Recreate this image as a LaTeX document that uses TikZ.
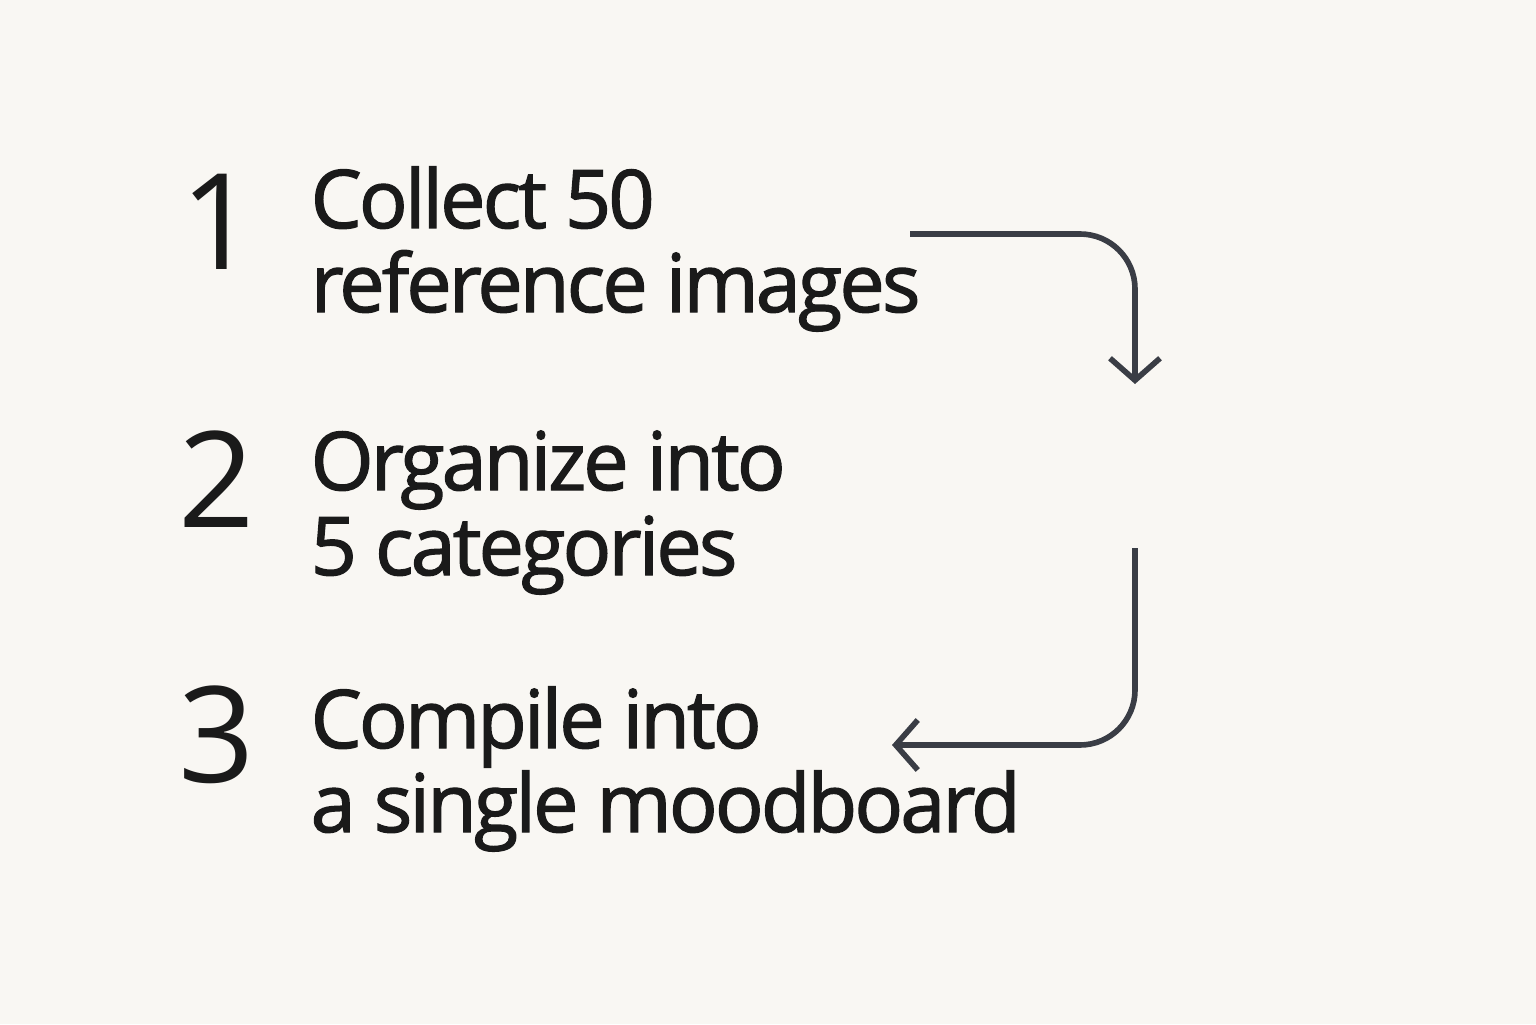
\documentclass[tikz,border=0pt]{standalone}
\usepackage{fontspec}
\setmainfont{Open Sans}
\newfontfamily\stepfont[LetterSpace=-3.5,FakeBold=1.6]{Open Sans}
\usetikzlibrary{arrows.meta}
\definecolor{paper}{HTML}{F9F7F3}
\definecolor{ink}{HTML}{1A1A1A}
\definecolor{wire}{HTML}{3A3D45}
\begin{document}
\begin{tikzpicture}[
    num/.style={anchor=base west, inner sep=0pt, text=ink, font=\fontsize{38}{38}\selectfont},
    txt/.style={anchor=base west, inner sep=0pt, text=ink, font=\stepfont\fontsize{23}{23}\selectfont},
    arrow/.style={-{Straight Barb[length=0.22cm,width=0.5cm]}, line width=1.6pt, draw=wire, rounded corners=0.55cm}
]
\fill[paper] (0,0) rectangle (15.36,10.24);

% Numbers
\node[num] (n1) at (1.80,7.54) {1};
\node[num] (n2) at (1.78,4.97) {2};
\node[num] (n3) at (1.78,2.42) {3};

% Step texts
\node[txt] (s1a) at (3.10,7.96) {Collect 50};
\node[txt] (s1b) at (3.10,7.12) {reference images};
\node[txt] (s2a) at (3.10,5.34) {Organize into};
\node[txt] (s2b) at (3.10,4.49) {5 categories};
\node[txt] (s3a) at (3.10,2.76) {Compile into};
\node[txt] (s3b) at (3.10,1.92) {a single moodboard};

% Connectors
\coordinate (a1) at (9.10,7.90);
\coordinate (a1e) at (11.35,6.40);
\coordinate (a2) at (11.35,4.76);
\coordinate (a2e) at (8.92,2.79);
\draw[arrow] (a1) -| (a1e);
\draw[arrow] (a2) |- (a2e);

\end{tikzpicture}
\end{document}
